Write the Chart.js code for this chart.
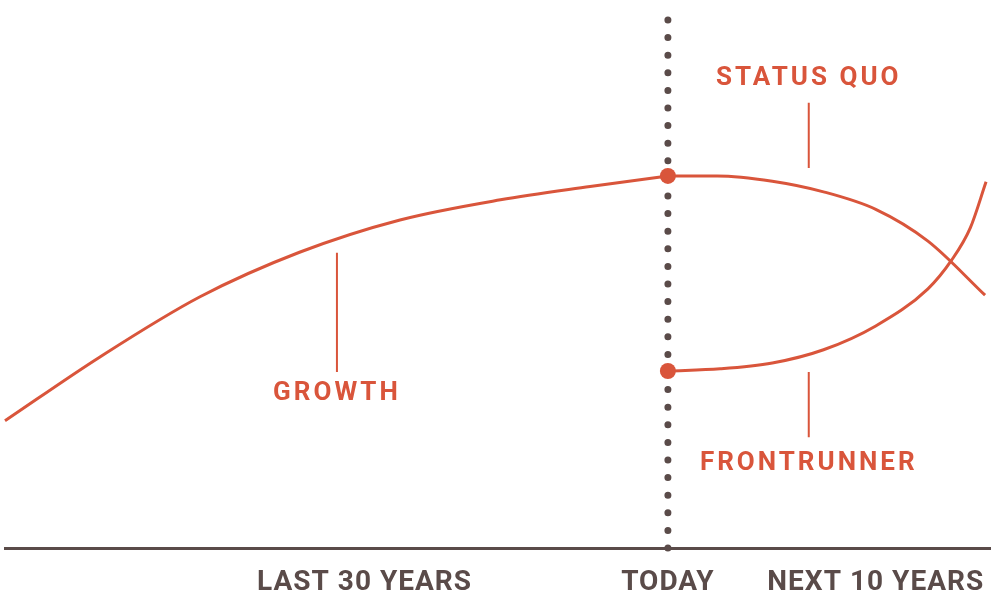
<!DOCTYPE html>
<html>
<head>
<meta charset="utf-8">
<script src="https://cdn.jsdelivr.net/npm/chart.js@4"></script>
<style>
  html, body { margin: 0; padding: 0; background: #fff; }
  #wrap { width: 1000px; height: 603px; }
</style>
</head>
<body>
<div id="wrap"><canvas id="chart"></canvas></div>
<script>
// values (x: 0..100 across, y: 0..100 up from the baseline)
const growthX = [0, 9.6, 19.8, 29.9, 40.1, 50.3, 59.4, 67.3];
const growthY = [24.0, 36.0, 47.4, 55.8, 61.9, 65.7, 68.2, 70.2];

const statusX = [67.3, 72.3, 77.9, 83.1, 88.4, 93.7, 99.5];
const statusY = [70.2, 70.2, 69.2, 67.2, 63.9, 57.9, 47.7];

const frontX = [67.3, 72.6, 77.9, 83.1, 88.4, 93.7, 96.1, 98.0, 99.6];
const frontY = [33.4, 33.8, 34.9, 37.4, 41.9, 48.9, 54.3, 60.4, 69.1];

const todayX = 67.3;
const tickValues = [36.5, 67.3, 88.4];
const tickLabels = ["LAST 30 YEARS", "TODAY", "NEXT 10 YEARS"];

// annotation labels with their leader lines
const notes = [
  { text: "GROWTH", x: 33.7, y: 29.2, lineTop: 55.7, lineBottom: 33.2 },
  { text: "STATUS QUO", x: 81.6, y: 88.5, lineTop: 84.0, lineBottom: 71.7 },
  { text: "FRONTRUNNER", x: 81.6, y: 16.0, lineTop: 33.2, lineBottom: 20.9 }
];

const RED = "#d9553b";
const DARK = "#5a4b49";

const toPoints = (xs, ys) => xs.map((x, i) => ({ x: x, y: ys[i] }));

const curve = (xs, ys, marker) => ({
  data: toPoints(xs, ys),
  borderColor: RED,
  backgroundColor: RED,
  borderWidth: 3,
  cubicInterpolationMode: "monotone",
  pointRadius: xs.map((_, i) => (marker && i === 0 ? 8 : 0)),
  pointBorderWidth: 0,
  clip: false
});

const leaders = notes.map((n) => ({
  data: [{ x: n.x, y: n.lineTop }, { x: n.x, y: n.lineBottom }],
  borderColor: RED,
  borderWidth: 2,
  pointRadius: 0,
  clip: false
}));

const noteLabels = {
  id: "noteLabels",
  beforeDraw(chart) {
    chart.ctx.letterSpacing = "1px"; // for the axis labels
  },
  afterDatasetsDraw(chart) {
    const ctx = chart.ctx;
    const xs = chart.scales.x;
    const ys = chart.scales.y;
    ctx.save();
    ctx.fillStyle = RED;
    ctx.font = "bold 26px Roboto";
    ctx.letterSpacing = "3px";
    ctx.textAlign = "center";
    ctx.textBaseline = "middle";
    notes.forEach((n) => {
      ctx.fillText(n.text, xs.getPixelForValue(n.x), ys.getPixelForValue(n.y));
    });
    ctx.restore();
  },
  afterDraw(chart) {
    chart.ctx.letterSpacing = "0px";
  }
};

new Chart(document.getElementById("chart"), {
  type: "line",
  data: {
    datasets: [
      curve(growthX, growthY, false),
      curve(statusX, statusY, true),
      curve(frontX, frontY, true),
      ...leaders,
      {
        // dotted "today" line
        data: [{ x: todayX, y: 0 }, { x: todayX, y: 100 }],
        borderColor: DARK,
        borderWidth: 7,
        borderDash: [0, 17.6],
        borderCapStyle: "round",
        pointRadius: 0,
        clip: false
      }
    ]
  },
  options: {
    responsive: true,
    maintainAspectRatio: false,
    animation: false,
    layout: { autoPadding: false, padding: { left: 5, right: 10, top: 18, bottom: 0 } },
    plugins: { legend: { display: false }, tooltip: { enabled: false } },
    scales: {
      x: {
        type: "linear",
        min: 0,
        max: 100,
        grid: { display: false, drawTicks: false },
        border: { display: true, color: DARK, width: 3 },
        afterBuildTicks: (axis) => {
          axis.ticks = tickValues.map((v) => ({ value: v }));
        },
        afterFit: (axis) => {
          axis.height = 55;
        },
        ticks: {
          autoSkip: false,
          maxRotation: 0,
          padding: 18,
          color: DARK,
          font: { family: "Roboto", weight: "bold", size: 28 },
          callback: (value, index) => tickLabels[index]
        }
      },
      y: { display: false, min: 0, max: 100 }
    }
  },
  plugins: [noteLabels]
});
</script>
</body>
</html>
